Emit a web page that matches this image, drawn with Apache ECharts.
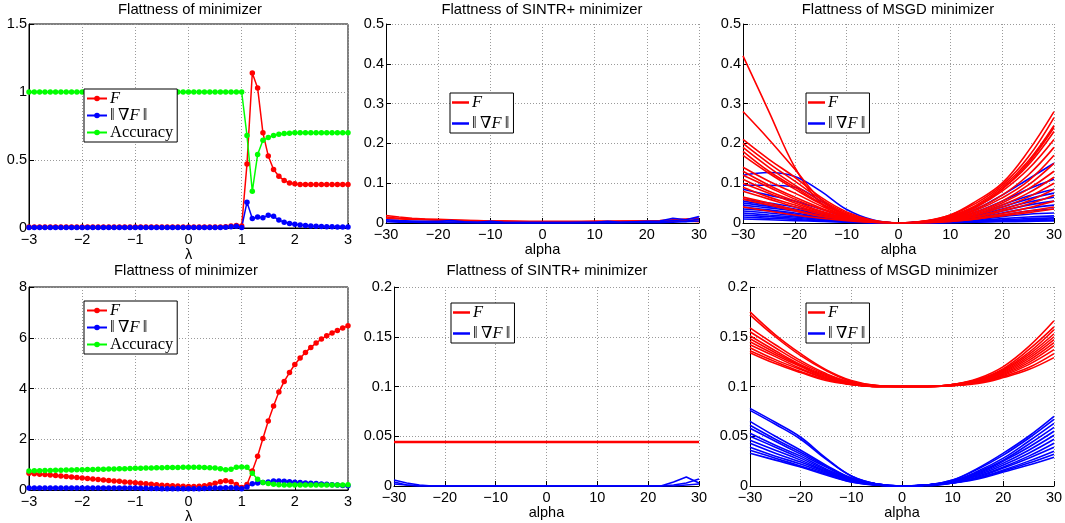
<!DOCTYPE html>
<html><head><meta charset="utf-8">
<script src="https://cdn.jsdelivr.net/npm/echarts/dist/echarts.min.js"></script>
<style>html,body{margin:0;padding:0;background:#fff}#c{width:1065px;height:523px}</style>
</head><body><div id="c"></div>
<script>
// ---------- x grids ----------
const lambda = [-3,-2.9,-2.8,-2.7,-2.6,-2.5,-2.4,-2.3,-2.2,-2.1,-2,-1.9,-1.8,-1.7,-1.6,-1.5,-1.4,-1.3,-1.2,-1.1,-1,-0.9,-0.8,-0.7,-0.6,-0.5,-0.4,-0.3,-0.2,-0.1,0,0.1,0.2,0.3,0.4,0.5,0.6,0.7,0.8,0.9,1,1.1,1.2,1.3,1.4,1.5,1.6,1.7,1.8,1.9,2,2.1,2.2,2.3,2.4,2.5,2.6,2.7,2.8,2.9,3];
const alpha = [-30,-25,-20,-15,-10,-5,0,5,10,15,20,25,30];
const alpha2 = [-30,-27.5,-25,-22.5,-20,-17.5,-15,-12.5,-10,-7.5,-5,-2.5,0,2.5,5,7.5,10,12.5,15,17.5,20,22.5,25,27.5,30];

// ---------- titles / labels ----------
const titles = ['Flattness of minimizer','Flattness of SINTR+ minimizer','Flattness of MSGD minimizer',
                'Flattness of minimizer','Flattness of SINTR+ minimizer','Flattness of MSGD minimizer'];
const xNames = ['λ','alpha','alpha','λ','alpha','alpha'];

// ---------- top-left panel ----------
const topLeftF = [0.008,0.008,0.008,0.008,0.008,0.008,0.008,0.008,0.008,0.008,0.008,0.008,0.008,0.008,0.008,0.008,0.008,0.008,0.008,0.008,0.008,0.008,0.008,0.008,0.008,0.008,0.008,0.008,0.008,0.008,0.008,0.008,0.008,0.008,0.008,0.008,0.008,0.01,0.015,0.018,0.015,
  0.47,1.14,1.03,0.70,0.53,0.43,0.38,0.35,0.33,0.325,0.32,0.32,0.32,0.32,0.32,0.32,0.32,0.32,0.32,0.32];
const topLeftG = [0.004,0.004,0.004,0.004,0.004,0.004,0.004,0.004,0.004,0.004,0.004,0.004,0.004,0.004,0.004,0.004,0.004,0.004,0.004,0.004,0.004,0.004,0.004,0.004,0.004,0.004,0.004,0.004,0.004,0.004,0.004,0.004,0.004,0.004,0.004,0.004,0.004,0.006,0.01,0.012,0.003,
  0.19,0.07,0.08,0.076,0.093,0.086,0.058,0.043,0.034,0.027,0.022,0.018,0.015,0.013,0.011,0.01,0.009,0.008,0.007,0.007];
const topLeftAcc = [1,1,1,1,1,1,1,1,1,1,1,1,1,1,1,1,1,1,1,1,1,1,1,1,1,1,1,1,1,1,1,1,1,1,1,1,1,1,1,1,1,
  0.68,0.27,0.54,0.645,0.665,0.68,0.69,0.695,0.697,0.70,0.70,0.70,0.70,0.70,0.70,0.70,0.70,0.70,0.70,0.70];

// ---------- bottom-left panel ----------
const botLeftF = [0.66,0.64,0.62,0.61,0.59,0.57,0.55,0.53,0.51,0.49,0.47,
  0.45,0.43,0.41,0.39,0.37,0.35,0.34,0.32,0.31,0.29,
  0.27,0.25,0.23,0.21,0.19,0.18,0.17,0.16,0.15,0.14,
  0.14,0.15,0.17,0.21,0.27,0.33,0.36,0.33,0.22,0.10,
  0.22,0.75,1.33,2.03,2.72,3.31,3.86,4.28,4.63,4.95,
  5.20,5.42,5.62,5.79,5.95,6.08,6.19,6.29,6.38,6.47];
const botLeftG = [0.08,0.08,0.08,0.08,0.08,0.08,0.08,0.08,0.08,0.08,0.08,
  0.08,0.08,0.08,0.08,0.08,0.08,0.08,0.08,0.08,0.08,
  0.07,0.07,0.06,0.06,0.05,0.05,0.05,0.05,0.05,0.05,
  0.05,0.05,0.06,0.07,0.08,0.08,0.09,0.09,0.08,0.05,
  0.12,0.25,0.28,0.30,0.32,0.35,0.35,0.34,0.33,0.31,
  0.30,0.28,0.27,0.26,0.24,0.23,0.21,0.20,0.18,0.17];
const botLeftAcc = [0.75,0.76,0.76,0.77,0.77,0.78,0.78,0.79,0.79,0.80,0.80,
  0.81,0.81,0.82,0.82,0.83,0.83,0.84,0.84,0.85,0.86,
  0.86,0.87,0.87,0.88,0.88,0.89,0.89,0.89,0.90,0.90,
  0.90,0.90,0.89,0.88,0.87,0.84,0.80,0.82,0.90,0.91,
  0.90,0.66,0.42,0.30,0.26,0.23,0.21,0.20,0.20,0.20,
  0.20,0.20,0.20,0.20,0.20,0.20,0.20,0.20,0.20,0.21];

// ---------- top-middle (SINTR+) ----------
const sintrTopF = [
  [0.019,0.015,0.012,0.010,0.009,0.008,0.007,0.006,0.005,0.005,0.004,0.004,0.004,0.004,0.004,0.004,0.004,0.004,0.005,0.005,0.005,0.006,0.008,0.010,0.012],
  [0.015,0.012,0.010,0.009,0.008,0.007,0.006,0.005,0.004,0.004,0.004,0.003,0.003,0.003,0.003,0.003,0.004,0.004,0.004,0.004,0.005,0.005,0.006,0.005,0.003],
  [0.011,0.010,0.009,0.008,0.007,0.006,0.005,0.005,0.004,0.004,0.003,0.003,0.003,0.003,0.003,0.003,0.003,0.003,0.003,0.004,0.004,0.004,0.004,0.006,0.008]
];
const sintrTopG = [
  [0.008,0.006,0.005,0.004,0.004,0.006,0.003,0.002,0.004,0.002,0.001,0.001,0.001,0.001,0.001,0.002,0.002,0.004,0.002,0.003,0.004,0.005,0.012,0.008,0.016],
  [0.005,0.004,0.003,0.002,0.002,0.002,0.002,0.001,0.001,0.001,0.001,0.001,0.001,0.001,0.001,0.001,0.001,0.001,0.001,0.002,0.002,0.003,0.006,0.004,0.010],
  [0.003,0.002,0.002,0.001,0.001,0.001,0.001,0.001,0.001,0.000,0.000,0.000,0.000,0.000,0.000,0.000,0.000,0.001,0.001,0.001,0.001,0.001,0.002,0.003,0.005]
];

// ---------- bottom-middle (SINTR+) ----------
const sintrBotF = [
  [0.0440,0.0440,0.0440,0.0440,0.0440,0.0440,0.0440,0.0440,0.0440,0.0440,0.0440,0.0440,0.0440,0.0440,0.0440,0.0440,0.0440,0.0440,0.0440,0.0440,0.0440,0.0440,0.0440,0.0440,0.0440],
  [0.0445,0.0445,0.0445,0.0445,0.0445,0.0445,0.0445,0.0445,0.0445,0.0445,0.0445,0.0445,0.0445,0.0445,0.0445,0.0445,0.0445,0.0445,0.0445,0.0445,0.0445,0.0445,0.0445,0.0445,0.0445]
];
const sintrBotG = [
  [0.006,0.003,0.001,0,0,0,0,0,0,0,0,0,0,0,0,0,0,0,0,0,0,0,0.004,0.009,0.003],
  [0.004,0.001,0,0,0,0,0,0,0,0,0,0,0,0,0,0,0,0,0,0,0,0,0.001,0.003,0.007],
  [0.002,0.001,0,0,0,0,0,0,0,0,0,0,0,0,0,0,0,0,0,0,0,0,0,0.001,0.002]
];

// ---------- top-right (MSGD) ----------
const msgdTopF = [
  [0.42,0.28,0.14,0.05,0.015,0.003,0,0.003,0.015,0.04,0.085,0.15,0.24],
  [0.28,0.21,0.135,0.06,0.02,0.004,0,0.004,0.02,0.055,0.10,0.18,0.28],
  [0.21,0.16,0.115,0.065,0.028,0.007,0,0.005,0.02,0.05,0.095,0.165,0.265],
  [0.20,0.15,0.105,0.06,0.025,0.006,0,0.004,0.018,0.045,0.09,0.155,0.245],
  [0.19,0.14,0.095,0.055,0.022,0.005,0,0.004,0.016,0.042,0.085,0.145,0.23],
  [0.18,0.13,0.09,0.05,0.02,0.005,0,0.004,0.015,0.04,0.08,0.135,0.21],
  [0.17,0.125,0.085,0.048,0.02,0.005,0,0.003,0.013,0.035,0.07,0.12,0.19],
  [0.14,0.105,0.075,0.043,0.018,0.004,0,0.003,0.012,0.032,0.063,0.105,0.17],
  [0.13,0.095,0.065,0.038,0.016,0.004,0,0.003,0.011,0.028,0.055,0.095,0.15],
  [0.12,0.09,0.06,0.035,0.015,0.004,0,0.002,0.01,0.025,0.05,0.085,0.13],
  [0.11,0.08,0.055,0.03,0.013,0.003,0,0.002,0.009,0.022,0.045,0.075,0.115],
  [0.10,0.075,0.05,0.028,0.012,0.003,0,0.002,0.008,0.02,0.04,0.065,0.10],
  [0.09,0.065,0.045,0.025,0.011,0.003,0,0.002,0.007,0.017,0.034,0.055,0.085],
  [0.08,0.06,0.04,0.022,0.01,0.002,0,0.002,0.006,0.015,0.03,0.047,0.07],
  [0.065,0.05,0.033,0.018,0.008,0.002,0,0.001,0.005,0.012,0.024,0.038,0.055],
  [0.06,0.045,0.03,0.017,0.008,0.002,0,0.001,0.004,0.01,0.02,0.03,0.04],
  [0.04,0.03,0.02,0.012,0.006,0.002,0,0.001,0.004,0.01,0.018,0.026,0.035]
];
const msgdTopG = [
  [0.12,0.127,0.117,0.08,0.034,0.008,0,0.003,0.012,0.035,0.07,0.11,0.15],
  [0.095,0.095,0.09,0.055,0.02,0.005,0,0.003,0.01,0.028,0.055,0.085,0.11],
  [0.085,0.07,0.055,0.035,0.015,0.004,0,0.002,0.008,0.022,0.045,0.068,0.085],
  [0.06,0.05,0.04,0.025,0.012,0.003,0,0.002,0.007,0.02,0.04,0.06,0.075],
  [0.055,0.045,0.035,0.022,0.01,0.003,0,0.002,0.006,0.017,0.035,0.052,0.065],
  [0.05,0.042,0.032,0.02,0.009,0.002,0,0.002,0.005,0.014,0.03,0.045,0.055],
  [0.045,0.038,0.03,0.018,0.008,0.002,0,0.001,0.005,0.012,0.025,0.037,0.045],
  [0.04,0.033,0.025,0.015,0.007,0.002,0,0.001,0.004,0.01,0.02,0.03,0.035],
  [0.035,0.03,0.022,0.013,0.006,0.002,0,0.001,0.003,0.008,0.016,0.022,0.025],
  [0.03,0.025,0.018,0.011,0.005,0.001,0,0.001,0.003,0.006,0.011,0.015,0.018],
  [0.025,0.02,0.015,0.009,0.004,0.001,0,0.001,0.002,0.005,0.008,0.011,0.013],
  [0.02,0.016,0.012,0.007,0.003,0.001,0,0,0.002,0.004,0.006,0.008,0.01],
  [0.015,0.012,0.009,0.005,0.002,0.001,0,0,0.001,0.003,0.005,0.006,0.007],
  [0.01,0.008,0.006,0.004,0.002,0,0,0,0.001,0.002,0.003,0.004,0.005]
];

// ---------- bottom-right (MSGD) ----------
const msgdBotF = [
  [0.175,0.152,0.133,0.117,0.106,0.101,0.1,0.1,0.102,0.108,0.12,0.14,0.166],
  [0.172,0.15,0.131,0.116,0.105,0.101,0.1,0.1,0.102,0.107,0.118,0.137,0.16],
  [0.159,0.142,0.126,0.113,0.104,0.101,0.1,0.1,0.102,0.107,0.117,0.134,0.157],
  [0.155,0.139,0.124,0.112,0.104,0.1,0.1,0.1,0.102,0.106,0.116,0.132,0.153],
  [0.151,0.136,0.122,0.111,0.103,0.1,0.1,0.1,0.101,0.106,0.115,0.13,0.15],
  [0.148,0.134,0.121,0.11,0.103,0.1,0.1,0.1,0.101,0.105,0.114,0.128,0.147],
  [0.145,0.132,0.12,0.109,0.103,0.1,0.1,0.1,0.101,0.105,0.113,0.126,0.144],
  [0.142,0.13,0.118,0.108,0.102,0.1,0.1,0.1,0.101,0.104,0.112,0.124,0.141],
  [0.139,0.127,0.117,0.108,0.102,0.1,0.1,0.1,0.101,0.104,0.111,0.122,0.137],
  [0.136,0.125,0.115,0.107,0.102,0.1,0.1,0.1,0.101,0.104,0.11,0.119,0.133],
  [0.134,0.123,0.114,0.106,0.102,0.1,0.1,0.1,0.101,0.103,0.109,0.117,0.129]
];
const msgdBotG = [
  [0.078,0.064,0.049,0.028,0.01,0.002,0,0.001,0.006,0.018,0.033,0.05,0.07],
  [0.076,0.062,0.047,0.027,0.01,0.002,0,0.001,0.006,0.017,0.031,0.048,0.067],
  [0.065,0.05,0.036,0.021,0.008,0.002,0,0.001,0.005,0.015,0.028,0.045,0.063],
  [0.061,0.047,0.034,0.02,0.008,0.002,0,0.001,0.005,0.014,0.026,0.042,0.059],
  [0.058,0.045,0.032,0.019,0.007,0.002,0,0.001,0.005,0.013,0.025,0.039,0.055],
  [0.053,0.041,0.03,0.017,0.007,0.002,0,0.001,0.004,0.012,0.023,0.036,0.051],
  [0.05,0.039,0.028,0.016,0.006,0.001,0,0.001,0.004,0.011,0.021,0.033,0.047],
  [0.046,0.036,0.026,0.015,0.006,0.001,0,0.001,0.004,0.01,0.019,0.03,0.043],
  [0.043,0.033,0.024,0.014,0.005,0.001,0,0.001,0.003,0.009,0.018,0.028,0.039],
  [0.039,0.03,0.022,0.013,0.005,0.001,0,0.001,0.003,0.008,0.016,0.025,0.035],
  [0.036,0.028,0.02,0.012,0.004,0.001,0,0.001,0.003,0.008,0.015,0.023,0.032],
  [0.033,0.026,0.019,0.011,0.004,0.001,0,0,0.003,0.007,0.014,0.021,0.029]
];

// ---------- axis ranges ----------
const xRanges = [[-3,3,1],[-30,30,10],[-30,30,10],[-3,3,1],[-30,30,10],[-30,30,10]];
const yRanges = [[0,1.5,0.5],[0,0.5,0.1],[0,0.5,0.1],[0,8,2],[0,0.2,0.05],[0,0.2,0.05]];

// ================= build chart =================
const RED = '#ff0000', BLUE = '#0000ff', GREEN = '#00ff00';
const SANS = 'Liberation Sans, Arial, Helvetica, sans-serif';
const SERIF = 'Liberation Serif, DejaVu Serif, Times New Roman, serif';
const gridRects = [
  {left:29, top:24, width:319, height:204, box:true},
  {left:386, top:24, width:313, height:199, box:false},
  {left:743, top:24, width:311, height:199, box:false},
  {left:29, top:287, width:319, height:203, box:true},
  {left:394, top:287, width:305, height:199, box:false},
  {left:750, top:287, width:304, height:199, box:false}
];
const titlePos = [[190,10],[542,10],[898,10],[186,271],[547,271],[902,271]];
const xNameGap = [12,15,15,12,15,15];
const pairs = (xs, ys) => xs.map((x, i) => [x, ys[i]]);

const grid = gridRects.map(g => ({
  left:g.left, top:g.top, width:g.width, height:g.height,
  show:g.box, borderColor:'#000', borderWidth:1, backgroundColor:'transparent',
  containLabel:false, outerBoundsMode:'none'
}));
const splitLine = {show:true, lineStyle:{color:'#9a9a9a', width:1, type:[1,2]}};
const xAxis = xRanges.map((r, i) => ({
  type:'value', gridIndex:i, min:r[0], max:r[1], interval:r[2],
  name:xNames[i], nameLocation:'middle', nameGap:xNameGap[i],
  nameTextStyle:{color:'#000', fontFamily:SANS, fontSize:14.5},
  axisLine:{show:true, onZero:false, lineStyle:{color:'#000', width:1}},
  axisTick:{show:true, inside:true, length:5, lineStyle:{color:'#000'}},
  axisLabel:{color:'#000', fontFamily:SANS, fontSize:14.5, margin:4,
    formatter:v => String(v).replace('-', '\u2212')},
  splitLine: splitLine
}));
const yAxis = yRanges.map((r, i) => ({
  type:'value', gridIndex:i, min:r[0], max:r[1], interval:r[2],
  axisLine:{show:true, onZero:false, lineStyle:{color:'#000', width:1}},
  axisTick:{show:true, inside:true, length:5, lineStyle:{color:'#000'}},
  axisLabel:{color:'#000', fontFamily:SANS, fontSize:14.5, margin:2},
  splitLine: splitLine
}));

const series = [];
function markerLine(name, xs, ys, color, gi) {
  series.push({type:'line', name, xAxisIndex:gi, yAxisIndex:gi, data:pairs(xs, ys),
    symbol:'circle', symbolSize:5.5, showSymbol:true,
    lineStyle:{color, width:1.5}, itemStyle:{color},
    silent:true, animation:false, emphasis:{disabled:true}});
}
function plainLine(name, xs, ys, color, gi, smooth, width) {
  series.push({type:'line', name, xAxisIndex:gi, yAxisIndex:gi, data:pairs(xs, ys),
    symbol:'none', smooth:smooth, lineStyle:{color, width:width || 1.6}, itemStyle:{color},
    silent:true, animation:false, emphasis:{disabled:true}});
}
// left panels
markerLine('F', lambda, topLeftF, RED, 0);
markerLine('G', lambda, topLeftG, BLUE, 0);
markerLine('Acc', lambda, topLeftAcc, GREEN, 0);
markerLine('F', lambda, botLeftF, RED, 3);
markerLine('G', lambda, botLeftG, BLUE, 3);
markerLine('Acc', lambda, botLeftAcc, GREEN, 3);
// SINTR+ panels
sintrTopF.forEach(d => plainLine('F2', alpha2, d, RED, 1, false));
sintrTopG.forEach(d => plainLine('G2', alpha2, d, BLUE, 1, false));
sintrBotF.forEach(d => plainLine('F2', alpha2, d, RED, 4, false, 2));
sintrBotG.forEach(d => plainLine('G2', alpha2, d, BLUE, 4, false));
// MSGD panels (interleaved like the original)
for (let k = 0; k < Math.max(msgdTopF.length, msgdTopG.length); k++) {
  if (msgdTopF[k]) plainLine('F2', alpha, msgdTopF[k], RED, 2, 0.4);
  if (msgdTopG[k]) plainLine('G2', alpha, msgdTopG[k], BLUE, 2, 0.4);
}
for (let k = 0; k < Math.max(msgdBotF.length, msgdBotG.length); k++) {
  if (msgdBotF[k]) plainLine('F2', alpha, msgdBotF[k], RED, 5, 0.4);
  if (msgdBotG[k]) plainLine('G2', alpha, msgdBotG[k], BLUE, 5, 0.4);
}

const legendRich = {
  i:{fontFamily:SERIF, fontStyle:'italic', fontSize:16.5, color:'#000', lineHeight:16},
  n:{fontFamily:SERIF, fontSize:16.5, color:'#000', lineHeight:16}
};
const legendFmt = name => ({
  F:'{i|F}', F2:'{i|F}',
  G:'{n|‖\u2009∇}{i|F}{n|\u2009‖}', G2:'{n|‖\u2009∇}{i|F}{n|\u2009‖}',
  Acc:'{n|Accuracy}'
}[name]);
function mkLegend(left, top, names, w, h, gap, icon) {
  return {show:true, orient:'vertical', left, top,
    data:names.map(n => icon ? {name:n, icon:icon} : {name:n}), selectedMode:false,
    borderColor:'#000', borderWidth:1, backgroundColor:'#fff', borderRadius:0,
    padding:[1,4,1,2], itemGap:gap, itemWidth:w, itemHeight:h,
    formatter:legendFmt, textStyle:{rich:legendRich, padding:[0,0,0,-2]}, z:10};
}
const legend = [
  mkLegend(84, 89, ['F','G','Acc'], 20, 7, 0),
  mkLegend(84, 301, ['F','G','Acc'], 20, 7, 0),
  mkLegend(450, 93, ['F2','G2'], 17, 2.5, 4, 'rect'),
  mkLegend(806, 93, ['F2','G2'], 17, 2.5, 4, 'rect'),
  mkLegend(451, 303, ['F2','G2'], 17, 2.5, 4, 'rect'),
  mkLegend(806, 303, ['F2','G2'], 17, 2.5, 4, 'rect')
];

const graphic = titles.map((t, i) => ({
  type:'text', x:titlePos[i][0], y:titlePos[i][1], silent:true,
  style:{text:t, fill:'#000', font:'14.8px ' + SANS, textAlign:'center', textVerticalAlign:'middle'}
}));

const chart = echarts.init(document.getElementById('c'), null, {renderer:'canvas'});
chart.setOption({animation:false, backgroundColor:'#fff', grid, xAxis, yAxis, series, legend, graphic});
</script></body></html>
